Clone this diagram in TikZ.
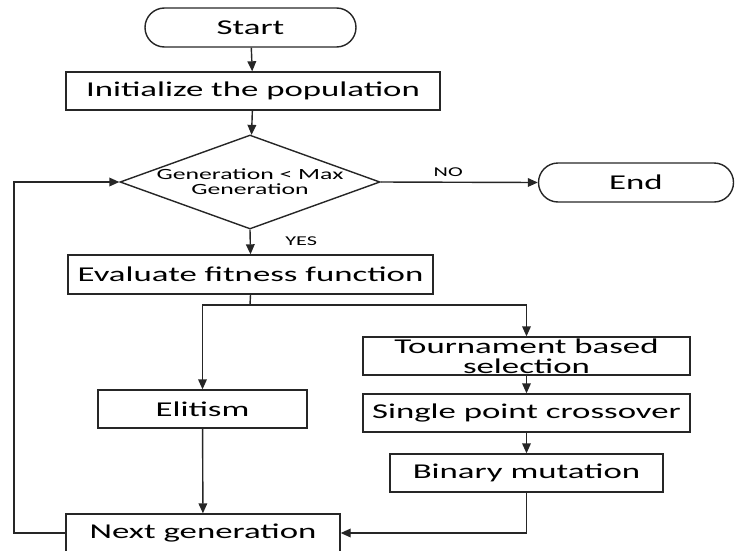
\documentclass[tikz,border=0pt]{standalone}
\usepackage{fontspec}
\setmainfont{Carlito}[FakeStretch=1.65]
\usetikzlibrary{arrows.meta,shapes.geometric}
\newcommand\pxu{0.03cm}
\tikzset{
  flow/.style={line width=1.2pt, draw=black!85},
  arr/.style={flow, -{Triangle[length=0.3cm,width=0.26cm]}},
  stepbox/.style={draw=black!85, line width=1.2pt, rectangle, inner sep=0pt, align=center,
    font=\fontsize{18pt}{17pt}\selectfont},
  terminal/.style={stepbox, rounded corners=19.5*\pxu},
  decision/.style={draw=black!85, line width=1.2pt, diamond, aspect=2.77, inner sep=0pt,
    align=center, font=\fontsize{13.3pt}{13pt}\selectfont},
  tag/.style={font=\fontsize{11.5pt}{12pt}\selectfont},
}
\begin{document}
\begin{tikzpicture}[x=\pxu, y=-\pxu]
\useasboundingbox (0,0) rectangle (737,550);
\clip (0,0) rectangle (737,550);

\node[terminal, minimum width=211*\pxu, minimum height=39*\pxu] (start) at (250.5,27.5) {Start};
\node[stepbox, minimum width=374*\pxu, minimum height=38*\pxu] (init) at (253,91) {Initialize the population};
\node[decision, minimum width=260*\pxu, minimum height=94*\pxu] (dec) at (250,182) {Generation < Max\\Generation};
\node[terminal, minimum width=195*\pxu, minimum height=39*\pxu] (end) at (636,182.5) {End};
\node[stepbox, minimum width=365*\pxu, minimum height=39*\pxu] (eval) at (250.5,274.5) {Evaluate fitness function};
\node[stepbox, minimum width=327*\pxu, minimum height=38*\pxu] (tour) at (526.5,356) {Tournament based\\selection};
\node[stepbox, minimum width=327*\pxu, minimum height=38*\pxu] (cross) at (526.5,413) {Single point crossover};
\node[stepbox, minimum width=273*\pxu, minimum height=38*\pxu] (binm) at (526.5,473) {Binary mutation};
\node[stepbox, minimum width=209*\pxu, minimum height=38*\pxu] (elit) at (202.5,409) {Elitism};
\node[stepbox, minimum width=274*\pxu, minimum height=38*\pxu] (nextg) at (203,533) {Next generation};

\coordinate (split) at (250,305);
\coordinate (loop) at (14,182);

\draw[arr] (start) -- (init);
\draw[arr] (init) -- (dec);
\draw[arr] (dec.east) -- node[tag, above=1pt, pos=0.43] {NO} (end.west);
\draw[arr] (dec.south) -- node[tag, right=26pt, pos=0.45] {YES} (eval.north);
\draw[flow] (eval.south) -- (split);
\draw[arr] (split) -| (elit.north);
\draw[arr] (split) -| (tour.north);
\draw[arr] (tour) -- (cross);
\draw[arr] (cross) -- (binm);
\draw[arr] (elit) -- (nextg);
\draw[arr] (binm.south) |- (nextg.east);
\draw[arr] (nextg.west) -| (loop) -- (dec.west);
\end{tikzpicture}
\end{document}
